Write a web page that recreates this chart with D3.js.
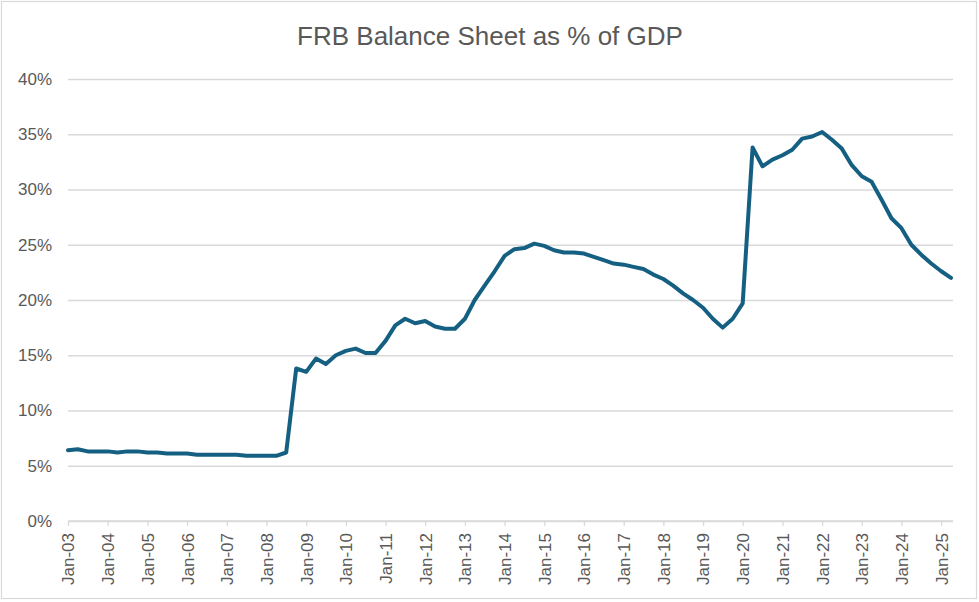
<!DOCTYPE html>
<html>
<head>
<meta charset="utf-8">
<script src="https://cdn.jsdelivr.net/npm/d3@7"></script>
<style>
  body { margin: 0; background: #fff; }
  svg { font-family: "Liberation Sans", Arial, sans-serif; }
  .tick text { fill: #595959; }
</style>
</head>
<body>
<svg id="chart" width="979" height="602"></svg>
<script>
// quarterly observations, Jan-03 .. Apr-25 (% of GDP)
const firstQuarter = new Date(2003, 0, 1);
const values = [
  6.4, 6.5, 6.3, 6.3,
  6.3, 6.2, 6.3, 6.3,
  6.2, 6.2, 6.1, 6.1,
  6.1, 6.0, 6.0, 6.0,
  6.0, 6.0, 5.9, 5.9,
  5.9, 5.9, 6.2, 13.8,
  13.5, 14.7, 14.2, 15.0,
  15.4, 15.6, 15.2, 15.2,
  16.3, 17.7, 18.3, 17.9,
  18.1, 17.6, 17.4, 17.4,
  18.3, 20.0, 21.3, 22.6,
  24.0, 24.6, 24.7, 25.1,
  24.9, 24.5, 24.3, 24.3,
  24.2, 23.9, 23.6, 23.3,
  23.2, 23.0, 22.8, 22.3,
  21.9, 21.3, 20.6, 20.0,
  19.3, 18.3, 17.5, 18.3,
  19.7, 33.8, 32.1, 32.7,
  33.1, 33.6, 34.6, 34.8,
  35.2, 34.5, 33.7, 32.2,
  31.2, 30.7, 29.1, 27.4,
  26.5, 25.0, 24.1, 23.3,
  22.6, 22.0
];
const yTicks = [0, 5, 10, 15, 20, 25, 30, 35, 40];
const title = "FRB Balance Sheet as % of GDP";

const data = values.map((v, i) => ({ date: d3.timeMonth.offset(firstQuarter, i * 3), value: v }));

const svg = d3.select("#chart");
const plot = { left: 68, right: 951, top: 79, bottom: 521 };

// chart area border
svg.append("rect")
  .attr("x", 1.5).attr("y", 1.5)
  .attr("width", 975).attr("height", 597)
  .attr("fill", "#fff")
  .attr("stroke", "#d9d9d9")
  .attr("stroke-width", 1.2);

svg.append("text")
  .attr("x", 490)
  .attr("y", 45)
  .attr("text-anchor", "middle")
  .style("font-size", "26px")
  .style("fill", "#595959")
  .text(title);

const x = d3.scaleTime()
  .domain(d3.extent(data, d => d.date))
  .range([plot.left, plot.right]);

const y = d3.scaleLinear()
  .domain([0, 40])
  .range([plot.bottom, plot.top]);

// gridlines + y labels
const yAxis = svg.append("g")
  .attr("transform", `translate(${plot.left},0)`)
  .call(d3.axisLeft(y)
    .tickValues(yTicks)
    .tickSize(-(plot.right + 2 - plot.left))
    .tickPadding(16)
    .tickFormat(d => d + "%"));
yAxis.select(".domain").remove();
yAxis.selectAll(".tick line")
  .attr("stroke", "#d9d9d9")
  .attr("stroke-width", 1.3);
yAxis.selectAll(".tick text")
  .style("font-size", "17px");

// x axis
const xAxis = svg.append("g")
  .attr("transform", `translate(0,${plot.bottom})`)
  .call(d3.axisBottom(x)
    .ticks(d3.timeYear.every(1))
    .tickSize(5)
    .tickSizeOuter(0)
    .tickFormat(d3.timeFormat("%b-%y")));
xAxis.select(".domain")
  .attr("stroke", "#d9d9d9")
  .attr("stroke-width", 1.3)
  .attr("d", `M${plot.left},0H${plot.right + 2}`);
xAxis.selectAll(".tick line")
  .attr("stroke", "#d9d9d9")
  .attr("stroke-width", 1.3);
xAxis.selectAll(".tick text")
  .attr("transform", "rotate(-90)")
  .attr("text-anchor", "end")
  .attr("x", -12)
  .attr("y", 0)
  .attr("dy", "0.35em")
  .style("font-size", "17px");

// the series
const line = d3.line()
  .x(d => x(d.date))
  .y(d => y(d.value));

svg.append("path")
  .datum(data)
  .attr("fill", "none")
  .attr("stroke", "#156082")
  .attr("stroke-width", 4)
  .attr("stroke-linejoin", "round")
  .attr("stroke-linecap", "round")
  .attr("d", line);
</script>
</body>
</html>
